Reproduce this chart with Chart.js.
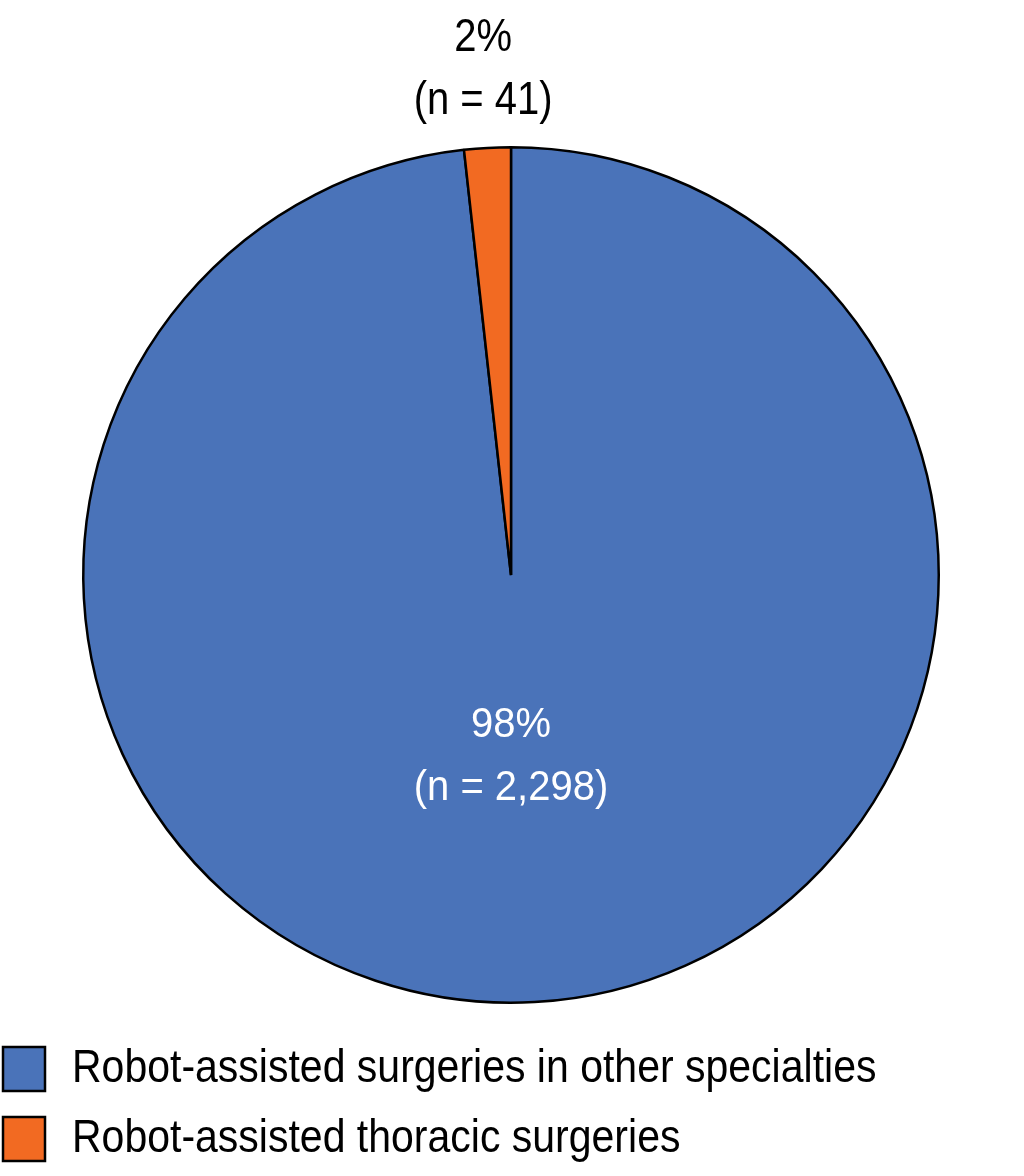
<!DOCTYPE html>
<html>
<head>
<meta charset="utf-8">
<script src="https://cdn.jsdelivr.net/npm/chart.js@4.4.1/dist/chart.umd.min.js"></script>
<style>
  html, body { margin: 0; padding: 0; background: #fff; }
  #wrap { width: 1024px; height: 1176px; }
</style>
</head>
<body>
<div id="wrap"><canvas id="pieChart" width="1024" height="1176"></canvas></div>
<script>
const labels = ["Robot-assisted surgeries in other specialties", "Robot-assisted thoracic surgeries"];
const counts = [2298, 41];
const percents = ["98%", "2%"];
const colors = ["#4a73b9", "#f26a22"];

const FONT = '"Liberation Sans", Arial, Helvetica, sans-serif';

// the original type is a tall, narrow sans; stretch a bit vertically
function tallText(ctx, text, x, y, sy) {
  ctx.save();
  ctx.translate(x, y);
  ctx.scale(1, sy);
  ctx.fillText(text, 0, 0);
  ctx.restore();
}

// slice labels: big slice inside, small slice outside along its mid angle
const sliceLabels = {
  id: "sliceLabels",
  afterDatasetsDraw(chart) {
    const ctx = chart.ctx;
    const arcs = chart.getDatasetMeta(0).data;
    ctx.save();
    ctx.textAlign = "center";
    ctx.textBaseline = "middle";
    ctx.font = "40px " + FONT;
    arcs.forEach((arc, i) => {
      const p = arc.getProps(["x", "y", "startAngle", "endAngle", "outerRadius"], true);
      const lines = [percents[i], "(n = " + counts[i].toLocaleString("en-US") + ")"];
      let x, y, sy;
      if (i === 0) {
        ctx.fillStyle = "#ffffff";
        x = p.x;
        y = p.y + p.outerRadius * 0.425;
        sy = 1.05;
      } else {
        ctx.fillStyle = "#000000";
        const mid = (p.startAngle + p.endAngle) / 2;
        const d = p.outerRadius + 79;
        x = p.x + Math.cos(mid) * d;
        y = p.y + Math.sin(mid) * d;
        sy = 1.15;
      }
      tallText(ctx, lines[0], x, y - 31, sy);
      tallText(ctx, lines[1], x, y + 32, sy);
    });
    ctx.restore();
  }
};

// legend drawn as a vertical list at the bottom left
const sideLegend = {
  id: "sideLegend",
  afterDraw(chart) {
    const ctx = chart.ctx;
    ctx.save();
    ctx.font = "41px " + FONT;
    ctx.textBaseline = "middle";
    ctx.textAlign = "left";
    chart.data.labels.forEach((lab, i) => {
      const top = 1047 + i * 70;
      ctx.fillStyle = chart.data.datasets[0].backgroundColor[i];
      ctx.fillRect(3, top, 42, 44);
      ctx.lineWidth = 2.5;
      ctx.strokeStyle = "#000";
      ctx.strokeRect(3, top, 42, 44);
      ctx.fillStyle = "#000";
      tallText(ctx, lab, 72, top + 22, 1.13);
    });
    ctx.restore();
  }
};

new Chart(document.getElementById("pieChart"), {
  type: "pie",
  data: {
    labels,
    datasets: [{
      data: counts,
      backgroundColor: colors,
      borderColor: "#000000",
      borderWidth: 2.5,
    }],
  },
  options: {
    responsive: false,
    animation: false,
    events: [],
    layout: { padding: { top: 146, bottom: 172, left: 82, right: 84 } },
    plugins: {
      legend: { display: false },
      tooltip: { enabled: false },
    },
  },
  plugins: [sliceLabels, sideLegend],
});
</script>
</body>
</html>
